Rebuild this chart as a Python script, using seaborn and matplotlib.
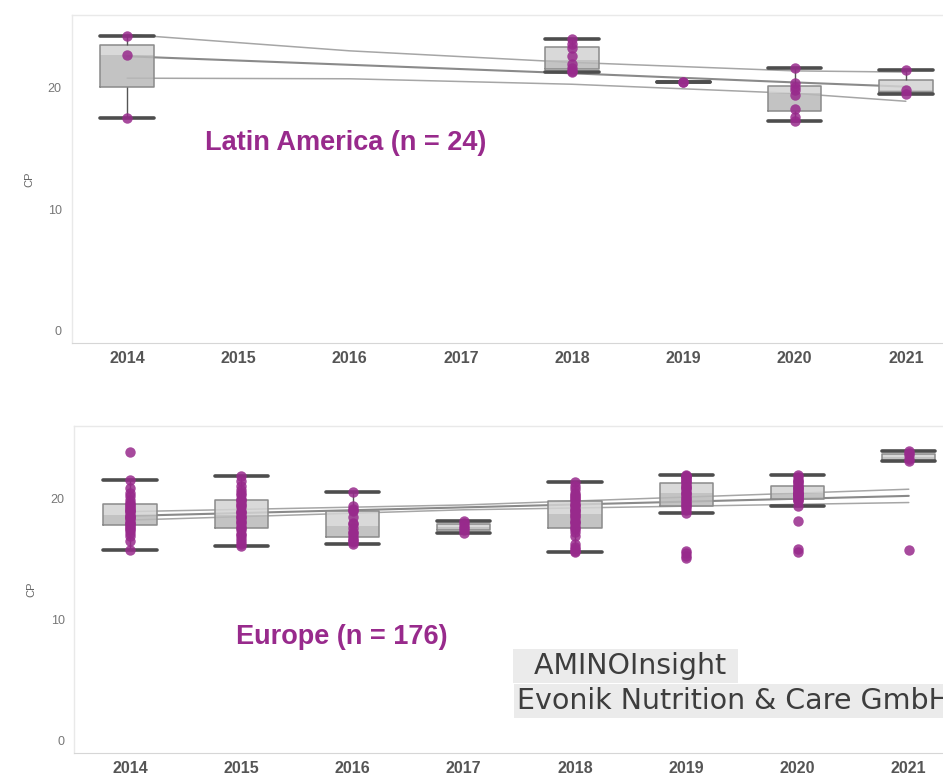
import numpy as np
import pandas as pd
import matplotlib
matplotlib.use("Agg")
import matplotlib.pyplot as plt
import seaborn as sns

# ---------------------------------------------------------------- data
years = ["2014", "2015", "2016", "2017", "2018", "2019", "2020", "2021"]

# Crude protein (CP) per sample, Latin America
latam_2014 = [24.3, 22.7, 17.5]
latam_2018 = [24.0, 23.6, 23.3, 22.6, 22.0, 21.6, 21.4, 21.3]
latam_2019 = [20.5, 20.5]
latam_2020 = [21.6, 20.4, 20.1, 19.8, 19.4, 18.3, 17.6, 17.3]
latam_2021 = [21.5, 19.8, 19.5]

# Crude protein (CP) per sample, Europe
europe_2014 = [23.9, 21.6, 20.9, 20.5, 20.2, 19.9, 19.7, 19.6, 19.4, 19.3,
               19.2, 19.1, 19.0, 18.9, 18.7, 18.6, 18.5, 18.4, 18.3, 18.1,
               18.0, 17.9, 17.8, 17.7, 17.5, 17.4, 17.2, 16.9, 16.5, 15.8]
europe_2015 = [21.9, 21.5, 21.1, 20.7, 20.5, 20.3, 20.0, 19.9, 19.8, 19.6,
               19.5, 19.3, 19.0, 18.9, 18.8, 18.6, 18.5, 18.4, 18.2, 18.1,
               17.9, 17.7, 17.6, 17.4, 17.1, 17.0, 16.8, 16.5, 16.3, 16.1]
europe_2016 = [20.6, 19.4, 19.2, 19.1, 19.0, 18.5, 18.0, 17.9, 17.6, 17.3,
               17.2, 16.9, 16.7, 16.6, 16.4, 16.3]
europe_2017 = [18.2, 18.0, 17.8, 17.6, 17.4, 17.2]
europe_2018 = [21.4, 21.1, 20.8, 20.5, 20.3, 20.2, 20.1, 20.0, 19.8, 19.6,
               19.5, 19.4, 19.2, 19.1, 19.0, 18.8, 18.7, 18.6, 18.4, 18.2,
               18.1, 18.0, 17.8, 17.6, 17.5, 17.3, 16.9, 16.3, 16.0, 15.9,
               15.7, 15.6]
europe_2019 = [22.0, 21.9, 21.9, 21.8, 21.7, 21.6, 21.5, 21.4, 21.2, 21.1,
               21.0, 20.9, 20.8, 20.6, 20.5, 20.4, 20.2, 20.1, 20.0, 19.8,
               19.7, 19.6, 19.4, 19.3, 19.1, 18.8, 15.7, 15.5, 15.3, 15.1]
europe_2020 = [22.0, 21.8, 21.6, 21.5, 21.4, 21.2, 21.1, 21.0, 20.9, 20.8,
               20.7, 20.6, 20.5, 20.5, 20.4, 20.3, 20.2, 20.2, 20.1, 20.0,
               19.9, 19.8, 19.4, 18.2, 15.9, 15.6]
europe_2021 = [24.0, 23.8, 23.6, 23.3, 23.1, 15.8]

# Linear trend with its confidence bounds
latam_trend_years = ["2014", "2016", "2018", "2020", "2021"]
latam_trend_fit = [22.6, 21.9, 21.2, 20.45, 20.1]
latam_trend_upper = [24.4, 23.05, 22.1, 21.4, 21.3]
latam_trend_lower = [20.8, 20.75, 20.3, 19.55, 18.9]

europe_trend_years = ["2014", "2017", "2021"]
europe_trend_fit = [18.6, 19.3, 20.25]
europe_trend_upper = [18.95, 19.5, 20.8]
europe_trend_lower = [18.25, 19.1, 19.7]


def long_table(groups):
    rows = [(y, v) for y, vals in groups.items() for v in vals]
    return pd.DataFrame(rows, columns=["year", "cp"])


latam = long_table({"2014": latam_2014, "2018": latam_2018, "2019": latam_2019,
                    "2020": latam_2020, "2021": latam_2021})
europe = long_table({"2014": europe_2014, "2015": europe_2015, "2016": europe_2016,
                     "2017": europe_2017, "2018": europe_2018, "2019": europe_2019,
                     "2020": europe_2020, "2021": europe_2021})

# ---------------------------------------------------------------- style
sns.set_style("white")
plt.rcParams["font.family"] = ["Liberation Sans", "DejaVu Sans"]

PURPLE = "#982a8c"
BOX_LIGHT = "#d3d3d3"
BOX_DARK = "#b9b9b9"
CAP = "#4d4d4d"
BOX_W = 0.48

fig = plt.figure(figsize=(9.43, 7.78), dpi=100)
fig.patch.set_facecolor("white")
ax_top = fig.add_axes([71.5 / 943, (778 - 343) / 778, 890 / 943, 328 / 778])
ax_bot = fig.add_axes([74.4 / 943, (778 - 753) / 778, 890 / 943, 326.7 / 778])


def draw_panel(ax, df, t_years, t_fit, t_up, t_lo, title, title_xy):
    # trend line and confidence bounds
    tx = [years.index(y) for y in t_years]
    for vals, col, lw in ((t_up, "#a6a6a6", 1.1), (t_lo, "#a6a6a6", 1.1),
                          (t_fit, "#8a8a8a", 1.5)):
        sns.lineplot(x=tx, y=vals, ax=ax, color=col, linewidth=lw, zorder=1)

    # two-tone boxes: lower quartile→median darker, median→upper quartile lighter
    q = df.groupby("year")["cp"].quantile([0.25, 0.5, 0.75]).unstack()
    pos = [years.index(y) for y in q.index]
    ax.bar(pos, q[0.5] - q[0.25], bottom=q[0.25], width=BOX_W,
           color=BOX_DARK, alpha=0.85, linewidth=0, zorder=2)
    ax.bar(pos, q[0.75] - q[0.5], bottom=q[0.5], width=BOX_W,
           color=BOX_LIGHT, alpha=0.85, linewidth=0, zorder=2)

    sns.boxplot(data=df, x="year", y="cp", order=years, ax=ax, fill=False,
                width=BOX_W, whis=1.5, showfliers=False, linecolor=CAP,
                boxprops=dict(color="#8a8a8a", linewidth=1.1),
                whiskerprops=dict(color="#555555", linewidth=1.0),
                capprops=dict(color=CAP, linewidth=2.6),
                medianprops=dict(linewidth=0),
                capwidths=BOX_W, zorder=3)

    sns.stripplot(data=df, x="year", y="cp", order=years, ax=ax, jitter=False,
                  color=PURPLE, size=7.5, linewidth=0, alpha=0.85, zorder=4)

    ax.set_xlim(-0.5, 7.5)
    ax.set_ylim(-1, 26)
    ax.set_yticks([0, 10, 20])
    ax.set_xticks(range(len(years)))
    ax.set_xticklabels(years)
    ax.set_xticks(np.arange(-0.5, len(years) + 0.5, 1), minor=True)
    ax.tick_params(axis="x", which="major", length=0, pad=6, labelsize=11.5,
                   labelcolor="#555555")
    for lab in ax.get_xticklabels():
        lab.set_fontweight("bold")
    ax.tick_params(axis="x", which="minor", length=6, width=1, color="#d0d0d0")
    ax.tick_params(axis="y", length=3, width=0.8, color="#cccccc", labelsize=9,
                   labelcolor="#777777", pad=4)
    ax.set_xlabel("")
    ax.set_ylabel("CP", fontsize=8, color="#666666", labelpad=10)
    for side in ("top", "left"):
        ax.spines[side].set_color("#e9e9e9")
        ax.spines[side].set_linewidth(1)
    ax.spines["bottom"].set_color("#d6d6d6")
    ax.spines["right"].set_visible(False)

    ax.text(title_xy[0], title_xy[1], title, color=PURPLE, fontsize=19.5,
            fontweight="bold", ha="left", va="center")


draw_panel(ax_top, latam, latam_trend_years, latam_trend_fit, latam_trend_upper,
           latam_trend_lower, f"Latin America (n = {len(latam)})", (0.70, 15.5))
draw_panel(ax_bot, europe, europe_trend_years, europe_trend_fit, europe_trend_upper,
           europe_trend_lower, f"Europe (n = {len(europe)})", (0.95, 8.6))

# source stamp
stamp = dict(boxstyle="square,pad=0.1", facecolor="#ebebeb", edgecolor="none")
fig.text(515.8 / 943, (778 - 680.2) / 778, "  AMINOInsight ", fontsize=20.5,
         family="DejaVu Sans", color="#3d3d3d", ha="left", va="bottom", bbox=stamp)
fig.text(517 / 943, (778 - 715.2) / 778, "Evonik Nutrition & Care GmbH",
         fontsize=20.5, family="DejaVu Sans", color="#3d3d3d", ha="left",
         va="bottom", bbox=stamp)

fig.savefig("out.png", dpi=100, facecolor="white")
